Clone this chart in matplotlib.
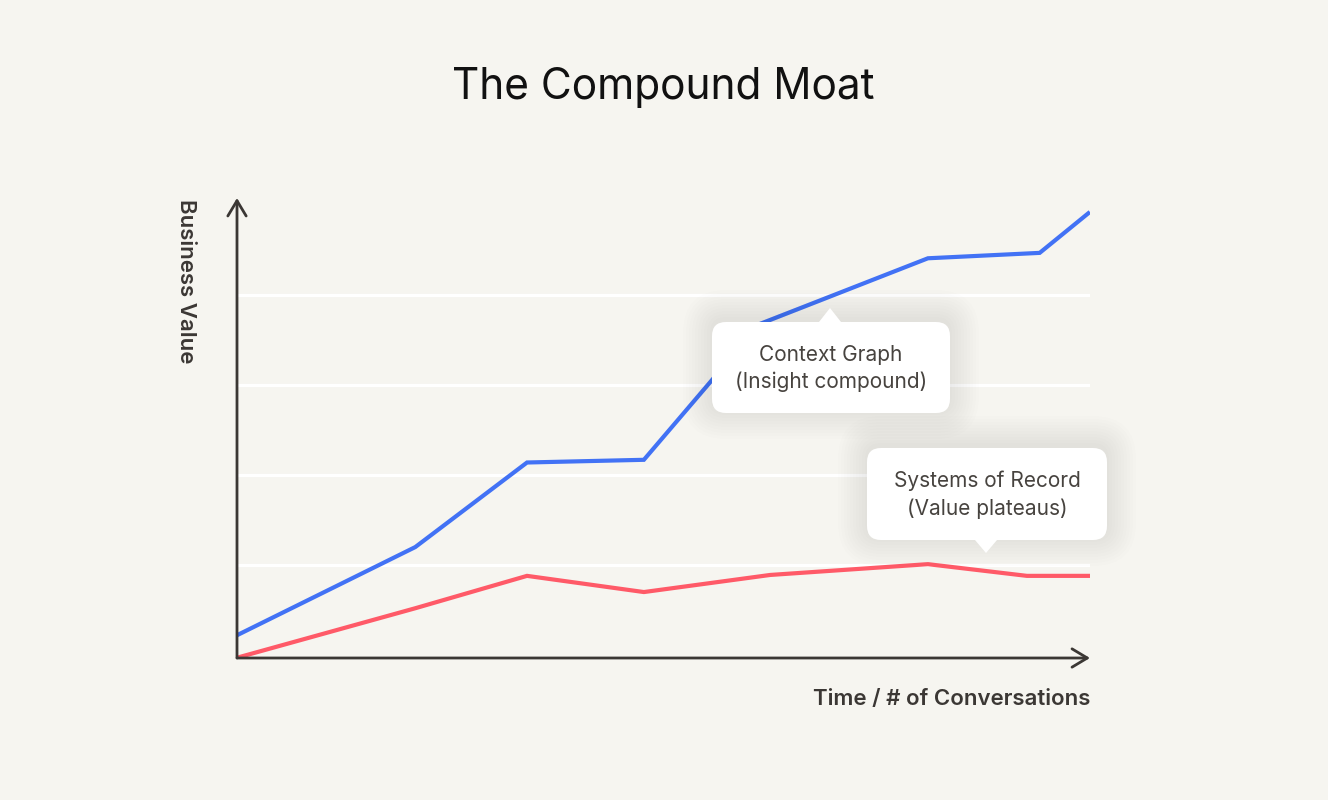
import matplotlib.pyplot as plt
from matplotlib.patches import FancyBboxPatch, Polygon
from matplotlib.transforms import IdentityTransform

plt.rcParams['font.family'] = ['Inter', 'DejaVu Sans']

# data
context_x = [0, 2.09, 3.40, 4.77, 6.13, 8.10, 9.41, 9.98]
context_y = [0.22, 1.20, 2.14, 2.17, 3.68, 4.41, 4.47, 4.91]
record_x = [0, 2.09, 3.40, 4.77, 6.25, 8.10, 9.26, 10.0]
record_y = [-0.03, 0.52, 0.88, 0.70, 0.89, 1.01, 0.88, 0.88]
grid_levels = [1, 2, 3, 4]

bg = '#f6f5f0'
dark = '#3b3734'
blue = '#4272f5'
red = '#ff5a68'

W, H = 1328, 800
fig = plt.figure(figsize=(W / 100, H / 100), dpi=100, facecolor=bg)
ax = fig.add_axes([237 / W, 1 - 658 / H, (1090 - 237) / W, (658 - 198) / H])
ax.set_facecolor(bg)
ax.set_xlim(0, 10)
ax.set_ylim(-0.033, 5.08)
ax.set_axis_off()

for g in grid_levels:
    ax.plot([0, 10.01], [g, g], color='white', lw=2.3, zorder=1, solid_capstyle='butt')

ax.plot(context_x, context_y, color=blue, lw=3, zorder=3, solid_joinstyle='miter')
ax.plot(record_x, record_y, color=red, lw=3, zorder=3, solid_joinstyle='miter')

# axes with arrow heads
arrow = dict(arrowstyle='->,head_length=0.5,head_width=0.3', color=dark, lw=2,
             mutation_scale=22, shrinkA=0, shrinkB=0)
ax.annotate('', xy=(1, 0), xytext=(0, 0), xycoords='axes fraction', arrowprops=arrow, zorder=4)
ax.annotate('', xy=(0, 1), xytext=(0, 0), xycoords='axes fraction', arrowprops=arrow, zorder=4)

fig.text(663 / W, 1 - 87 / H, 'The Compound Moat', ha='center', va='center',
         fontsize=30.5, color='#111111')
fig.text(1090 / W, 1 - 699 / H, 'Time / # of Conversations', ha='right', va='center',
         fontsize=16, color=dark, fontweight='semibold')
fig.text(186 / W, 1 - 199 / H, 'Business Value', ha='center', va='top', rotation=-90,
         fontsize=16, color=dark, fontweight='semibold')

ident = IdentityTransform()


def callout(x0, y0, x1, y1, tip_x, tip_y, lines):
    # pixel coords with origin at top left
    w, h = x1 - x0, y1 - y0
    for k in range(10):
        s = 2 + k * 3
        fig.patches.append(FancyBboxPatch((x0 - s, H - y1 - s + 3), w + 2 * s, h + 2 * s,
                                          boxstyle='round,pad=0,rounding_size=%d' % (14 + s),
                                          transform=ident, facecolor='#000000', edgecolor='none',
                                          alpha=0.006, zorder=5))
    fig.patches.append(FancyBboxPatch((x0, H - y1), w, h,
                                      boxstyle='round,pad=0,rounding_size=14',
                                      transform=ident, facecolor='white', edgecolor='none', zorder=6))
    base_y = y0 if tip_y < y0 else y1
    fig.patches.append(Polygon([(tip_x - 11, H - base_y), (tip_x + 11, H - base_y), (tip_x, H - tip_y)],
                               closed=True, transform=ident, facecolor='white', edgecolor='none', zorder=6))
    fig.text((x0 + x1) / 2 / W, 1 - (y0 + y1 + 2) / 2 / H, lines, ha='center', va='center',
             fontsize=15, color='#47433f', linespacing=1.45, zorder=7)


callout(712, 322, 950, 413, 830, 308, 'Context Graph\n(Insight compound)')
callout(867, 448, 1107, 540, 986, 553, 'Systems of Record\n(Value plateaus)')

fig.savefig('out.png', dpi=100, facecolor=bg)
